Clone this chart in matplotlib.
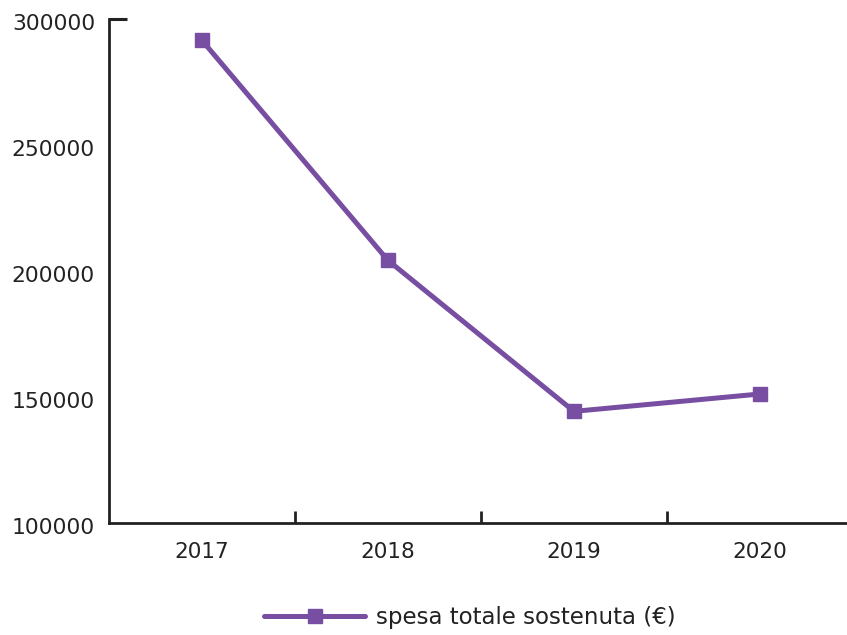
import matplotlib
matplotlib.use("Agg")
import matplotlib.pyplot as plt
import matplotlib.transforms as mtransforms
from matplotlib.lines import Line2D

years = ["2017", "2018", "2019", "2020"]
spesa = [291500, 204200, 144300, 151200]
series_label = "spesa totale sostenuta (€)"
yticks = [100000, 150000, 200000, 250000, 300000]

color = "#774ea1"
plt.rcParams['font.family'] = ['DejaVu Sans']

fig = plt.figure(figsize=(8.47, 6.35), dpi=100)
ax = fig.add_axes([109/847, 112/635, 744/847, 504/635])

x = list(range(len(years)))
ax.plot(x, spesa, color=color, lw=3.6, marker="s", markersize=10,
        solid_capstyle="round", label=series_label)

ax.set_xlim(-0.5, 3.5)
ax.set_ylim(100000, 300000)
ax.set_yticks(yticks)
ax.set_yticklabels([str(v) for v in yticks])
ax.set_xticks(x)
ax.set_xticklabels(years)
ax.tick_params(axis="x", which="major", length=0, pad=14, labelsize=15.5, labelcolor="#222222")
ax.tick_params(axis="y", which="major", length=0, pad=10, labelsize=15.7, labelcolor="#222222")
ax.set_xticks([0.5, 1.5, 2.5], minor=True)
ax.yaxis.remove_overlapping_locs = False
ax.set_yticks([300000], minor=True)
ax.tick_params(axis="x", which="minor", direction="in", length=8.5, width=2, color="#222222")
ax.tick_params(axis="y", which="minor", direction="in", length=13, width=2.2, color="#222222")

offset = mtransforms.ScaledTranslation(0, -3/100, fig.dpi_scale_trans)
for lab in ax.get_yticklabels():
    lab.set_transform(lab.get_transform() + offset)

for s in ["top", "right"]:
    ax.spines[s].set_visible(False)
for s in ["left", "bottom"]:
    ax.spines[s].set_linewidth(2)
    ax.spines[s].set_color("#222222")

handle = Line2D([], [], color=color, lw=3.6, marker="s", markersize=10, solid_capstyle="round")
fig.legend([handle], [series_label], loc="center", bbox_to_anchor=(0.555, 0.028),
           frameon=False, fontsize=16.5, handlelength=4.4, handletextpad=0.5,
           labelcolor="#222222")

fig.savefig("out.png", dpi=100)
